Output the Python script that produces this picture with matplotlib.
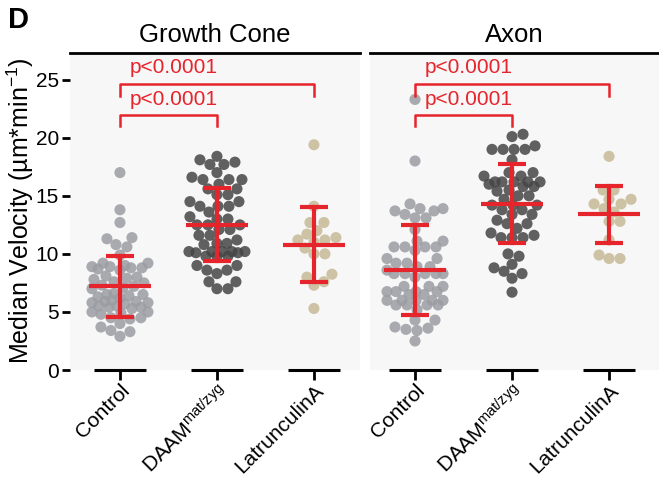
import numpy as np
import matplotlib.pyplot as plt

plt.rcParams['font.family'] = ['Liberation Sans', 'DejaVu Sans']
plt.rcParams['mathtext.fontset'] = 'custom'
plt.rcParams['mathtext.rm'] = 'Liberation Sans'
plt.rcParams['mathtext.it'] = 'Liberation Sans:italic'

# categorias
grupos = ['Control', r'DAAM$^{\mathrm{mat/zyg}}$', 'LatrunculinA']
paneles = ['Growth Cone', 'Axon']

# datos (velocidad mediana, um/min)
gc_control = [17.0, 13.8, 12.7, 11.4, 11.3, 10.8, 10.6, 9.9,
              9.2, 9.2, 9.0, 8.9, 8.9, 8.8, 8.8, 8.7, 8.6,
              8.1, 8.0, 7.9, 7.8, 7.6, 7.5, 7.3, 7.2, 7.1, 7.0,
              6.6, 6.5, 6.5, 6.4, 6.3, 6.2, 6.0, 5.9, 5.9, 5.8, 5.8, 5.7,
              5.5, 5.5, 5.4, 5.4, 5.3, 5.0, 5.0, 4.9, 4.8,
              4.5, 4.5, 4.4, 4.0, 3.7, 3.4, 3.3, 2.9]
gc_daam = [18.4, 18.1, 17.9, 17.7, 17.7, 17.0, 16.6, 16.4, 16.4, 16.4, 16.0,
           15.6, 15.6, 15.1, 15.1, 14.5, 14.5, 14.1, 14.1, 14.1, 13.6, 13.2,
           13.0, 13.0, 12.5, 12.5, 12.5, 12.1, 12.1, 11.6, 11.6, 11.2, 10.9,
           10.9, 10.8, 10.2, 10.2, 10.2, 10.2, 10.2, 10.1, 10.1, 9.8, 9.8,
           9.8, 9.0, 9.0, 8.6, 8.6, 8.3, 7.6, 7.6, 7.0, 7.0]
gc_lata = [19.4, 14.1, 12.7, 12.7, 12.0, 11.7, 11.4, 11.2, 11.2, 11.0,
           10.5, 10.0, 10.0, 8.25, 8.0, 7.6, 7.3, 5.3]

ax_control = [23.3, 18.0, 14.3, 13.9, 13.9, 13.7, 13.7, 13.4, 13.1, 13.1,
              12.1, 11.1, 11.1, 10.6, 10.6, 10.6, 10.6, 10.3, 9.6, 9.6,
              9.2, 9.2, 8.9, 8.9, 8.6, 8.3, 8.3, 8.3, 8.3, 8.3, 8.0,
              7.2, 7.2, 7.2, 6.75, 6.75, 6.75, 6.75, 6.5, 6.5,
              6.0, 6.0, 6.0, 6.0, 6.0, 5.6, 5.6, 5.6, 5.6, 5.2,
              4.3, 4.3, 3.7, 3.6, 3.5, 3.4, 2.5]
ax_daam = [20.3, 20.1, 19.3, 19.0, 19.0, 19.0, 19.0, 18.1, 17.0, 17.0,
           16.7, 16.7, 16.2, 16.2, 16.2, 16.2, 16.2, 16.0, 15.8, 15.8,
           15.5, 15.4, 15.0, 15.0, 14.7, 14.2, 14.2, 14.2, 13.8, 13.8,
           13.4, 13.4, 12.9, 12.6, 12.6, 12.2, 11.8, 11.6, 11.4, 11.4,
           11.4, 10.0, 9.8, 9.1, 8.8, 8.5, 8.3, 7.9, 6.7]
ax_lata = [18.4, 15.5, 15.5, 14.7, 14.7, 14.3, 14.3, 13.9, 13.6,
           12.8, 12.8, 11.2, 9.9, 9.6, 9.6]

# media y desviacion estandar (barras rojas)
gc_media = [7.2, 12.5, 10.8]
gc_sd = [2.6, 3.15, 3.2]
ax_media = [8.6, 14.3, 13.4]
ax_sd = [3.9, 3.4, 2.45]

colores = ['#9c9da3', '#454545', '#c6b995']
rojo = '#e6242b'

# escala en pixeles para el enjambre
PPY = 11.6
PPX = 97.0


def enjambre(vals, d=10.5, ancho=28):
    # enjambre con ancho limitado: si no cabe, se solapa donde menos choca
    vals = np.asarray(vals)
    offs = np.zeros(len(vals))
    cand = np.array(sorted(range(-ancho, ancho + 1), key=lambda s: (abs(s), -s)))
    pxs, pys = [], []
    for i in np.argsort(vals):
        y = vals[i] * PPY
        if pxs:
            px = np.array(pxs)
            py = np.array(pys)
            dist = np.sqrt((cand[:, None] - px[None, :]) ** 2 + (y - py[None, :]) ** 2).min(axis=1)
            libres = np.where(dist >= d)[0]
            s = cand[libres[0]] if len(libres) else cand[np.argmax(dist)]
        else:
            s = 0
        pxs.append(s)
        pys.append(y)
        offs[i] = s / PPX
    return offs


fig = plt.figure(figsize=(6.59, 4.82), dpi=100)
W, H = 659.0, 482.0
ax1 = fig.add_axes([70 / W, 1 - 370 / H, 290 / W, 317 / H])
ax2 = fig.add_axes([370 / W, 1 - 370 / H, 289 / W, 317 / H])

datos = [[gc_control, gc_daam, gc_lata], [ax_control, ax_daam, ax_lata]]
medias = [gc_media, ax_media]
sds = [gc_sd, ax_sd]

for ax, titulo, grupo, med, sd in zip([ax1, ax2], paneles, datos, medias, sds):
    ax.set_facecolor('#f7f7f7')
    for i, vals in enumerate(grupo):
        offs = enjambre(vals)
        ax.scatter(i + offs, vals, s=64, color=colores[i], alpha=0.85,
                   edgecolors='none', zorder=2)
        m, s = med[i], sd[i]
        ax.plot([i - 0.32, i + 0.32], [m, m], color=rojo, lw=3, zorder=3,
                solid_capstyle='butt')
        ax.plot([i, i], [m - s, m + s], color=rojo, lw=3, zorder=3)
        for yy in (m - s, m + s):
            ax.plot([i - 0.14, i + 0.14], [yy, yy], color=rojo, lw=3, zorder=3,
                    solid_capstyle='butt')
        # segmento negro en y=0
        ax.plot([i - 0.27, i + 0.27], [0, 0], color='black', lw=2.2,
                clip_on=False, zorder=4, solid_capstyle='butt')

    # corchetes de significancia
    ax.plot([0, 0, 1, 1], [21.0, 22.0, 22.0, 21.0], color=rojo, lw=1.8, zorder=3)
    ax.plot([0, 0, 2, 2], [23.6, 24.65, 24.65, 23.6], color=rojo, lw=1.8, zorder=3)
    ax.text(0.55, 22.5, 'p<0.0001', ha='center', va='bottom', color=rojo, fontsize=15)
    ax.text(0.55, 25.2, 'p<0.0001', ha='center', va='bottom', color=rojo, fontsize=15)

    ax.set_ylim(0, 27.3)
    ax.set_title(titulo, fontsize=18.5, pad=8)
    ax.set_xticks(range(3))
    ax.set_xticklabels(grupos, rotation=45, ha='right', rotation_mode='anchor')
    ax.tick_params(axis='x', length=7, width=2, labelsize=15, pad=1)
    for lado in ['left', 'right', 'bottom']:
        ax.spines[lado].set_visible(False)
    ax.spines['top'].set_linewidth(2)

ax1.set_xlim(-0.515, 2.475)
ax2.set_xlim(-0.464, 2.515)
ax1.set_yticks([0, 5, 10, 15, 20, 25])
ax1.tick_params(axis='y', length=6, width=2, labelsize=15, pad=2)
ax2.tick_params(axis='y', left=False, labelleft=False)

fig.text(20 / W, 1 - 211 / H, 'Median Velocity (µm*min$^{-1}$)', rotation=90,
         ha='center', va='center', fontsize=18)
fig.text(8 / W, 1 - 20 / H, 'D', fontweight='bold', fontsize=21, va='center')

fig.savefig('out.png', dpi=100)
